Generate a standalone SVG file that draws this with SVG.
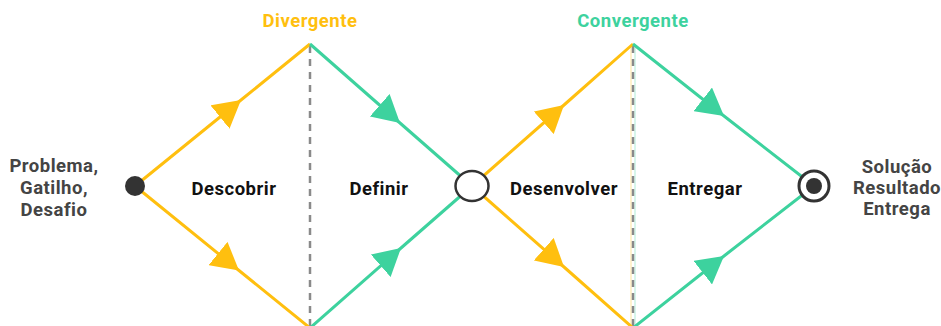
<svg xmlns="http://www.w3.org/2000/svg" width="941" height="326" viewBox="0 0 941 326">
<style>
.y{fill:none;stroke:#FFBF0F;stroke-width:3}
.g{fill:none;stroke:#3DD29E;stroke-width:3}
.ym{marker-mid:url(#ay)}
.gm{marker-mid:url(#ag)}
.dash{stroke:#8a8a8a;stroke-width:2.5;stroke-dasharray:7 6}
.t{font-family:Roboto,"Liberation Sans",sans-serif;font-weight:bold;font-size:18.5px;letter-spacing:0.5px;text-anchor:middle}
.side{fill:#444}
.mid{fill:#111}
</style>
<defs>
<marker id="ay" markerUnits="userSpaceOnUse" viewBox="0 0 27 30" markerWidth="27" markerHeight="30" refX="27" refY="15" orient="auto"><path d="M0,0 L27,15 L0,30 z" fill="#FFBF0F"/></marker>
<marker id="ag" markerUnits="userSpaceOnUse" viewBox="0 0 27 30" markerWidth="27" markerHeight="30" refX="27" refY="15" orient="auto"><path d="M0,0 L27,15 L0,30 z" fill="#3DD29E"/></marker>
</defs>
<rect width="941" height="326" fill="#fff"/>
<g id="guides">
<line class="dash" x1="310" y1="46" x2="310" y2="326"/>
<line x1="631" y1="46" x2="631" y2="326" stroke="#FFBF0F" stroke-width="1" opacity="0.4"/>
<line x1="635" y1="46" x2="635" y2="326" stroke="#3DD29E" stroke-width="1" opacity="0.4"/>
<line class="dash" x1="633" y1="46" x2="633" y2="326" stroke="#444"/>
</g>
<g id="connectors">
<path class="y ym" d="M135,186 L241,100 L310,44"/>
<path class="y ym" d="M135,186 L239,270.5 L310,328"/>
<path class="g gm" d="M310,44 L400,123 L472,186"/>
<path class="g gm" d="M310,328 L401,248 L472,186"/>
<path class="y ym" d="M472,186 L564,105 L633,44"/>
<path class="y ym" d="M472,186 L564,267 L633,328"/>
<path class="g gm" d="M633,44 L724,116 L814,186"/>
<path class="g gm" d="M633,328 L724,256 L814,186"/>
</g>
<g id="start">
<circle cx="135" cy="186" r="10" fill="#333"/>
<text class="t side" x="54" y="172">Problema,</text>
<text class="t side" x="54" y="194">Gatilho,</text>
<text class="t side" x="54" y="216">Desafio</text>
</g>
<g id="divergente"><text class="t" x="310" y="27" fill="#FFBF0F">Divergente</text></g>
<g id="convergente"><text class="t" x="633" y="27" fill="#3DD29E">Convergente</text></g>
<g id="descobrir"><text class="t mid" x="234" y="195">Descobrir</text></g>
<g id="definir"><text class="t mid" x="379" y="195">Definir</text></g>
<g id="middle"><ellipse cx="472" cy="186" rx="16.5" ry="15" fill="#fff" stroke="#333" stroke-width="2.5"/></g>
<g id="desenvolver"><text class="t mid" x="564" y="195">Desenvolver</text></g>
<g id="entregar"><text class="t mid" x="705" y="195">Entregar</text></g>
<g id="end">
<circle cx="814" cy="186" r="15" fill="#fff" stroke="#333" stroke-width="3"/>
<circle cx="814" cy="186" r="8" fill="#333"/>
<text class="t side" x="897" y="173">Solução</text>
<text class="t side" x="897" y="194">Resultado</text>
<text class="t side" x="897" y="215">Entrega</text>
</g>
</svg>
